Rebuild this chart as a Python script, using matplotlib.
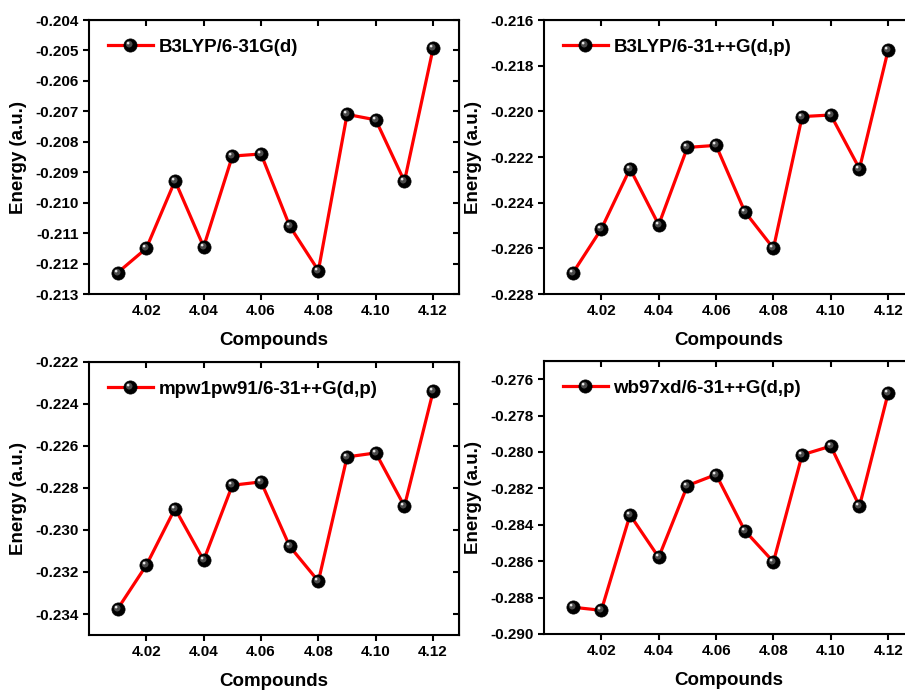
import matplotlib
matplotlib.use("Agg")
import matplotlib.pyplot as plt
from matplotlib.path import Path
from matplotlib.legend_handler import HandlerTuple
import numpy as np

plt.rcParams['font.family'] = ['Liberation Sans', 'DejaVu Sans']
plt.rcParams['font.weight'] = 'bold'
plt.rcParams['axes.unicode_minus'] = False

# x values (compound index) shared by all four panels
compounds = [4.01, 4.02, 4.03, 4.04, 4.05, 4.06, 4.07, 4.08, 4.09, 4.10, 4.11, 4.12]

b3lyp_631g_d = [-0.21230, -0.21150, -0.20928, -0.21145, -0.20847, -0.20840,
                -0.21077, -0.21223, -0.20710, -0.20728, -0.20930, -0.20493]
b3lyp_631ppg_dp = [-0.22709, -0.22515, -0.22251, -0.22497, -0.22158, -0.22149,
                   -0.22439, -0.22600, -0.22023, -0.22016, -0.22251, -0.21732]
mpw1pw91_631ppg_dp = [-0.23376, -0.23168, -0.22898, -0.23144, -0.22787, -0.22771,
                      -0.23078, -0.23244, -0.22652, -0.22633, -0.22887, -0.22340]
wb97xd_631ppg_dp = [-0.28853, -0.28870, -0.28346, -0.28579, -0.28185, -0.28124,
                    -0.28432, -0.28604, -0.28016, -0.27968, -0.28298, -0.27677]

labels = ["B3LYP/6-31G(d)", "B3LYP/6-31++G(d,p)",
          "mpw1pw91/6-31++G(d,p)", "wb97xd/6-31++G(d,p)"]
series = [b3lyp_631g_d, b3lyp_631ppg_dp, mpw1pw91_631ppg_dp, wb97xd_631ppg_dp]
ylims = [(-0.213, -0.204), (-0.228, -0.216), (-0.235, -0.222), (-0.290, -0.275)]
yticks = [np.arange(-0.213, -0.2035, 0.001), np.arange(-0.228, -0.2155, 0.002),
          np.arange(-0.234, -0.2215, 0.002), np.arange(-0.290, -0.2755, 0.002)]
xticks = [4.02, 4.04, 4.06, 4.08, 4.10, 4.12]

# axes rectangles (fig fraction); the right column runs past the figure edge
positions = [
    [0.0983, 0.5739, 0.4088, 0.3971],
    [0.6011, 0.5739, 0.4088, 0.3971],
    [0.0983, 0.0797, 0.4088, 0.3957],
    [0.6011, 0.0812, 0.4088, 0.3957],
]


def highlight_marker(a, rho):
    """Circle shifted up-left, used as the shiny spot on the ball markers."""
    return Path.circle(center=(-a, a), radius=rho)


BALL = 9.5
hl_soft = highlight_marker(0.2, 0.5)
hl_core = highlight_marker(0.36, 0.2)

fig = plt.figure(figsize=(9.05, 6.9), dpi=100)

for pos, yvals, label, ylim, yt in zip(positions, series, labels, ylims, yticks):
    ax = fig.add_axes(pos)
    line, = ax.plot(compounds, yvals, color='#ff0000', lw=2.3, marker='o',
                    ms=BALL, mfc='black', mec='black', mew=0.5, zorder=3)
    soft, = ax.plot(compounds, yvals, ls='none', marker=hl_soft,
                    ms=BALL * 0.7, mfc='#4a4a4a', mec='none', zorder=4)
    core, = ax.plot(compounds, yvals, ls='none', marker=hl_core,
                    ms=BALL * 0.56, mfc='#e8e8e8', mec='none', zorder=5)

    ax.set_xlim(4.0, 4.129)
    ax.set_ylim(*ylim)
    ax.set_xticks(xticks)
    ax.set_xticklabels([f"{v:.2f}" for v in xticks])
    ax.set_yticks(yt)
    ax.set_yticklabels([f"{v:.3f}" for v in yt])
    ax.tick_params(direction='out', length=4.5, width=1.5, labelsize=11, pad=3)
    for s in ax.spines.values():
        s.set_linewidth(1.5)

    # inward mirrored ticks on top/right, as in the original
    top = ax.secondary_xaxis('top')
    top.set_xticks(xticks)
    top.tick_params(direction='in', length=4.5, width=1.5, labeltop=False)
    right = ax.secondary_yaxis('right')
    right.set_yticks(yt)
    right.tick_params(direction='in', length=4.5, width=1.5, labelright=False)

    ax.set_xlabel("Compounds", fontsize=13.5, fontweight='bold', labelpad=10)
    ax.set_ylabel("Energy (a.u.)", fontsize=13.5, fontweight='bold', labelpad=6)

    ax.legend([(line, soft, core)], [label],
              handler_map={tuple: HandlerTuple(ndivide=1, pad=0)},
              loc='upper left', frameon=False, fontsize=13.5, handlelength=2.4,
              handletextpad=0.3, borderaxespad=0.6, bbox_to_anchor=(0.0, 1.0))

fig.savefig("out.png", dpi=100)
